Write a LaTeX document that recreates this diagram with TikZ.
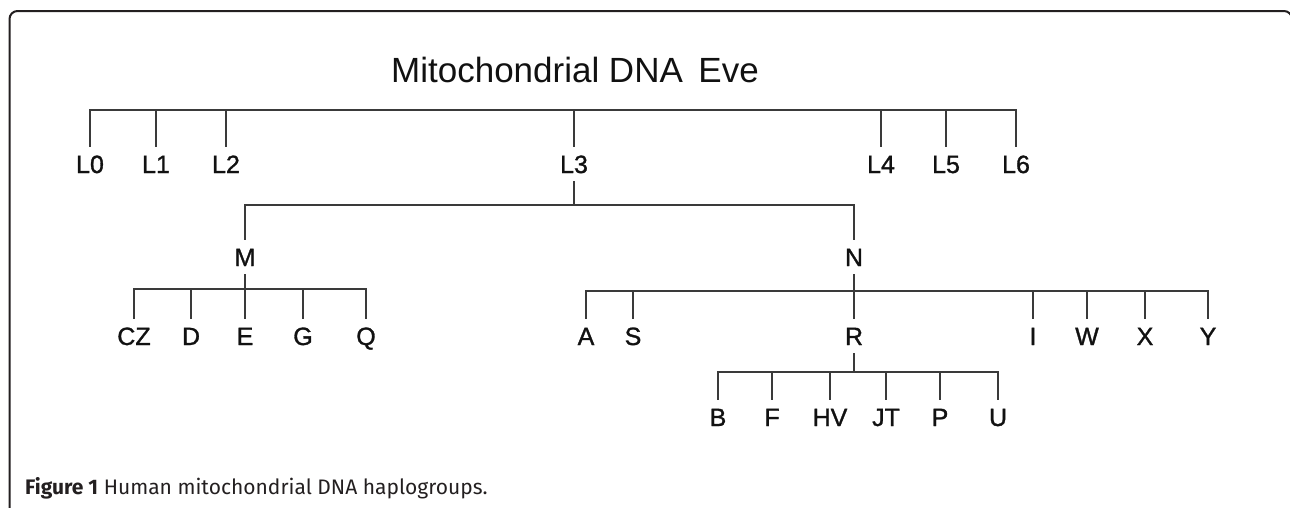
\documentclass[tikz,border=0pt]{standalone}
\usepackage{xcolor}
\usepackage{fontspec}
\setmainfont{Liberation Sans}
\newfontfamily\grpfont{Liberation Sans}[FakeBold=1.2]
\newfontfamily\capfont{Fira Sans}
\usepackage{tikz}
\usetikzlibrary{calc}
\definecolor{frame}{HTML}{231F20}
\definecolor{branch}{HTML}{3A3A3A}
\definecolor{text}{HTML}{111111}
\tikzset{
  box/.style={draw=frame, line width=2pt, rounded corners=8pt},
  tree/.style={draw=branch, line width=1.4pt},
  grp/.style={text=text, font=\grpfont\fontsize{25}{25}\selectfont, inner sep=8pt, text height=18pt, text depth=0pt},
  ttl/.style={text=text, font=\fontsize{35}{35}\selectfont, inner sep=0pt},
  figcap/.style={text=frame, font=\capfont\fontsize{21}{21}\selectfont, inner sep=0pt, anchor=west},
}

\begin{document}
\begin{tikzpicture}[x=1pt,y=-1pt]
  \useasboundingbox (0,0) rectangle (1290,507);
  \draw[box] (9.5,540) -- (9.5,11) -- (1292,11) -- (1292,540);

  \node[ttl] (eve) at (575,70) {Mitochondrial DNA\, Eve};

  \node[grp] (L0) at (90,164) {L0};
  \node[grp] (L1) at (156,164) {L1};
  \node[grp] (L2) at (226,164) {L2};
  \node[grp] (L3) at (574,164) {L3};
  \node[grp] (L4) at (881,164) {L4};
  \node[grp] (L5) at (946,164) {L5};
  \node[grp] (L6) at (1016,164) {L6};
  \coordinate (evebus) at (574,110);
  \draw[tree] (L0.north) |- (evebus) -| (L6.north);
  \draw[tree] (L1.north) -- (L1.north |- evebus);
  \draw[tree] (L2.north) -- (L2.north |- evebus);
  \draw[tree] (L3.north) -- (evebus);
  \draw[tree] (L4.north) -- (L4.north |- evebus);
  \draw[tree] (L5.north) -- (L5.north |- evebus);

  \node[grp] (M) at (245,257) {M};
  \node[grp] (N) at (854,257) {N};
  \coordinate (L3bus) at (574,205);
  \draw[tree] (L3.south) -- (L3bus);
  \draw[tree] (M.north) |- (L3bus) -| (N.north);

  \node[grp] (CZ) at (134,336) {CZ};
  \node[grp] (D) at (191,336) {D};
  \node[grp] (E) at (245,336) {E};
  \node[grp] (G) at (303,336) {G};
  \node[grp] (Q) at (366,336) {Q};
  \coordinate (Mbus) at (245,289);
  \draw[tree] (M.south) -- (Mbus);
  \draw[tree] (CZ.north) |- (Mbus) -| (Q.north);
  \draw[tree] (D.north) -- (D.north |- Mbus);
  \draw[tree] (E.north) -- (Mbus);
  \draw[tree] (G.north) -- (G.north |- Mbus);

  \node[grp] (A) at (586,336) {A};
  \node[grp] (S) at (633,336) {S};
  \node[grp] (R) at (854,336) {R};
  \node[grp] (I) at (1033,336) {I};
  \node[grp] (W) at (1087,336) {W};
  \node[grp] (X) at (1145,336) {X};
  \node[grp] (Y) at (1208,336) {Y};
  \coordinate (Nbus) at (854,291);
  \draw[tree] (N.south) -- (Nbus);
  \draw[tree] (A.north) |- (Nbus) -| (Y.north);
  \draw[tree] (S.north) -- (S.north |- Nbus);
  \draw[tree] (R.north) -- (Nbus);
  \draw[tree] (I.north) -- (I.north |- Nbus);
  \draw[tree] (W.north) -- (W.north |- Nbus);
  \draw[tree] (X.north) -- (X.north |- Nbus);

  \node[grp] (B) at (718,417) {B};
  \node[grp] (F) at (772,417) {F};
  \node[grp] (HV) at (830,417) {HV};
  \node[grp] (JT) at (886,417) {JT};
  \node[grp] (P) at (940,417) {P};
  \node[grp] (U) at (998,417) {U};
  \coordinate (Rbus) at (854,372);
  \draw[tree] (R.south) -- (Rbus);
  \draw[tree] (B.north) |- (Rbus) -| (U.north);
  \draw[tree] (F.north) -- (F.north |- Rbus);
  \draw[tree] (HV.north) -- (HV.north |- Rbus);
  \draw[tree] (JT.north) -- (JT.north |- Rbus);
  \draw[tree] (P.north) -- (P.north |- Rbus);

  \node[figcap] (caption) at (25,488) {\textbf{Figure 1} Human mitochondrial DNA haplogroups.};
\end{tikzpicture}
\end{document}
